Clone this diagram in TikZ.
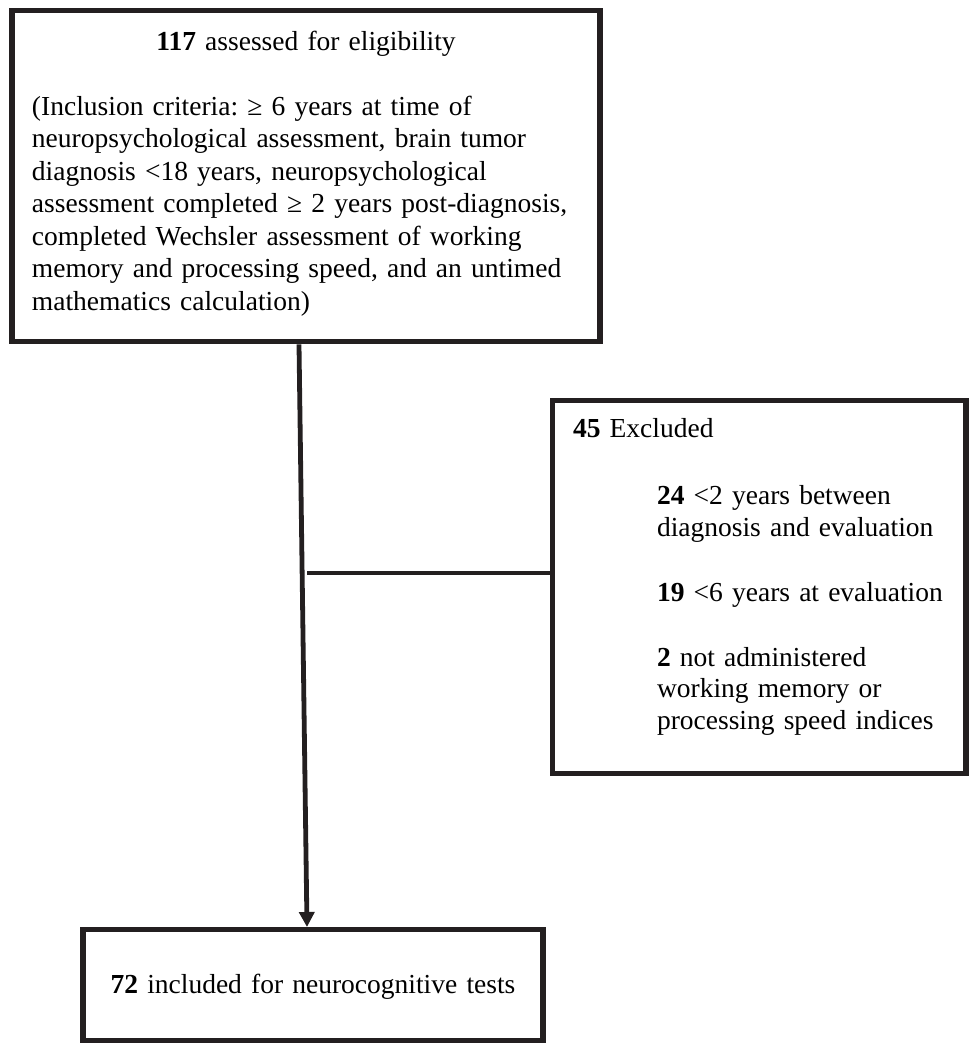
\documentclass[tikz,border=0pt]{standalone}
\usepackage{fontspec}
\setmainfont{Liberation Serif}
\usetikzlibrary{arrows.meta}
\definecolor{ink}{HTML}{231F20}
\newcommand{\exind}{\hspace*{42pt}}
\frenchspacing

\begin{document}
\begin{tikzpicture}[x=0.5pt,y=-0.5pt,
	box/.style={draw=ink,line width=2.7pt,inner ysep=0pt,anchor=north,font=\fontsize{13.75pt}{16.25pt}\selectfont},
	link/.style={draw=ink,line width=2.4pt}]
			\useasboundingbox (0,0) rectangle (977,1050);
			\node[box,text width=274pt,inner xsep=10pt,align=left,text height=20pt,text depth=145.5pt] (assess) at (306,8)
			{\makebox[\hsize]{\textbf{117} assessed for eligibility}\\[16pt]
				(Inclusion criteria: ≥ 6 years at time of\\
				neuropsychological assessment, brain tumor\\
				diagnosis <18 years, neuropsychological\\
				assessment completed ≥ 2 years post-diagnosis,\\
				completed Wechsler assessment of working\\
				memory and processing speed, and an untimed\\
				mathematics calculation)};
			\node[box,text width=186.25pt,inner xsep=10.25pt,align=left,text height=18.5pt,text depth=168pt,font=\fontsize{13.75pt}{15.75pt}\selectfont] (excl) at (759.25,398)
			{\textbf{45} Excluded\\[17.75pt]
				\exind\textbf{24} <2 years between\\
				\exind diagnosis and evaluation\\[16.75pt]
				\exind\textbf{19} <6 years at evaluation\\[16.75pt]
				\exind\textbf{2} not administered\\
				\exind working memory or\\
				\exind processing speed indices};
			\node[box,text width=226pt,inner xsep=2pt,align=center,text height=32pt,text depth=23.5pt] (incl) at (313,927)
			{\textbf{72} included for neurocognitive tests};
			% trunk and side branch
			\coordinate (trunk top) at (299,0);
			\coordinate (trunk bot) at (307,0);
			\coordinate (branch) at (307,573);
			\draw[link,-{Triangle[length=7.5pt,width=7.5pt]}] (assess.south -| trunk top) -- (incl.north -| trunk bot);
			\draw[link] (branch) -- (branch -| excl.west);
		\end{tikzpicture}
\end{document}
